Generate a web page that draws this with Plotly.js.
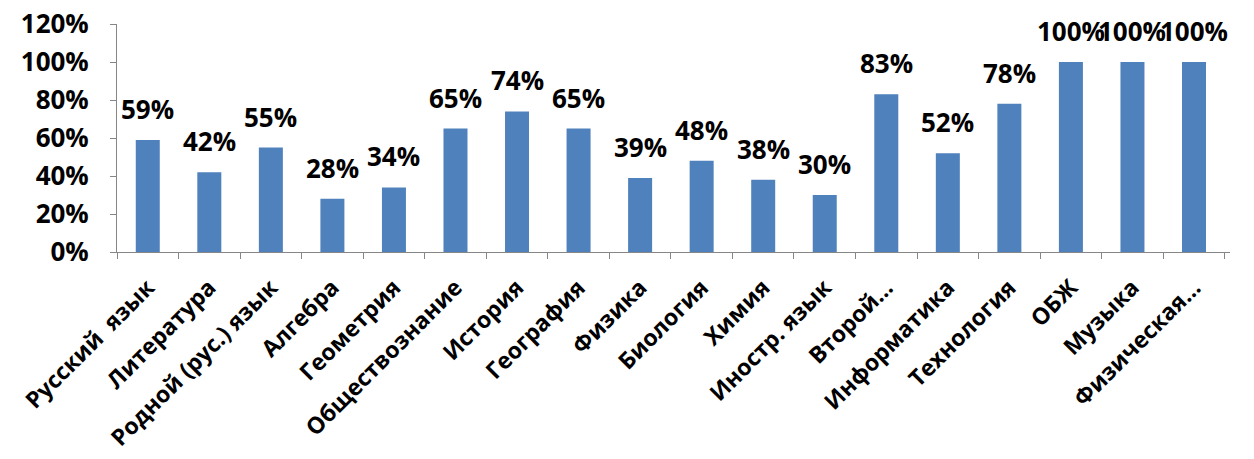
<!DOCTYPE html>
<html>
<head>
<meta charset="utf-8">
<script src="https://cdn.plot.ly/plotly-3.0.1.min.js"></script>
<style>html,body{margin:0;padding:0;background:#fff;}#chart{width:1254px;height:459px;}</style>
</head>
<body>
<div id="chart"></div>
<script>
const categories = ["Русский  язык","Литература","Родной (рус.) язык","Алгебра","Геометрия","Обществознание","История","География","Физика","Биология","Химия","Иностр. язык","Второй…","Информатика","Технология","ОБЖ","Музыка","Физическая…"];
const values = [0.59,0.42,0.55,0.28,0.34,0.65,0.74,0.65,0.39,0.48,0.38,0.30,0.83,0.52,0.78,1.00,1.00,1.00];
const yTicks = [0,0.2,0.4,0.6,0.8,1.0,1.2];

const FONT = "'Open Sans', 'DejaVu Sans', sans-serif";

const annotations = categories.map((c,i)=>({
  x: c, y: values[i], xref:'x', yref:'y',
  text: '<b>' + Math.round(values[i]*100) + '%</b>',
  showarrow:false, yanchor:'bottom', xanchor:'center', yshift:11,
  font:{family:FONT, size:26, color:'#000'}
}));

const trace = {
  type:'bar', x:categories, y:values,
  marker:{color:'#4F81BD'},
  hoverinfo:'none'
};

const layout = {
  width:1254, height:459,
  margin:{l:117, r:24, t:24, b:207, autoexpand:false},
  paper_bgcolor:'#fff', plot_bgcolor:'#fff',
  bargap:0.61,
  showlegend:false,
  font:{family:FONT, color:'#000'},
  xaxis:{
    type:'category', tickangle:-45, automargin:false,
    showline:true, linecolor:'#868686', linewidth:1,
    ticks:'outside', ticklen:6, tickcolor:'#868686', tickson:'boundaries',
    ticklabelstandoff:12,
    tickfont:{family:FONT, size:23, color:'#000', weight:'bold'},
    showgrid:false, zeroline:false
  },
  yaxis:{
    range:[0,1.2], tickvals:yTicks, ticktext:yTicks.map(v=>Math.round(v*100)+'%'),
    automargin:false,
    showline:true, linecolor:'#868686', linewidth:1,
    ticks:'outside', ticklen:6, tickcolor:'#868686',
    ticklabelstandoff:16,
    tickfont:{family:FONT, size:26, color:'#000', weight:'bold'},
    showgrid:false, zeroline:false
  },
  annotations:annotations
};

Plotly.newPlot('chart',[trace],layout,{displayModeBar:false, staticPlot:true});
</script>
</body>
</html>
